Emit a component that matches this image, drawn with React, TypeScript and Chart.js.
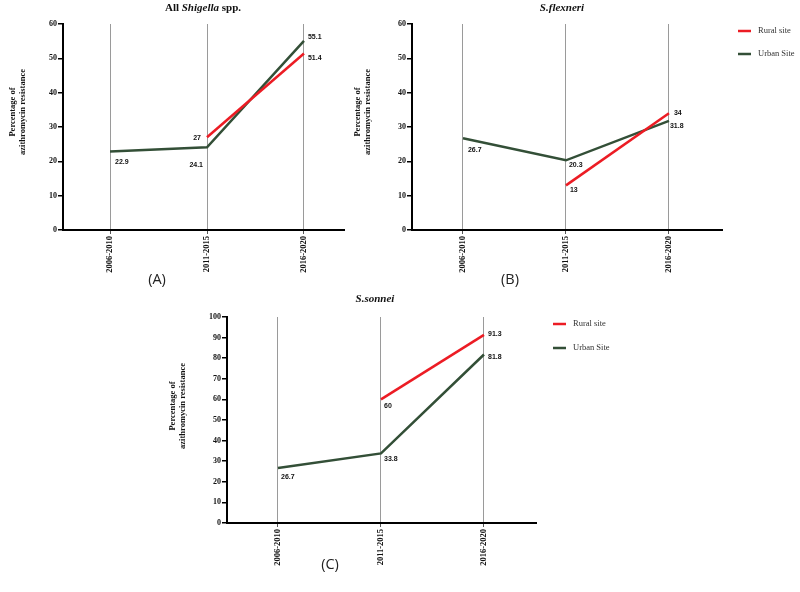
import React, { useEffect, useRef } from "react";
import { Chart, registerables } from "chart.js";
Chart.register(...registerables);

// ---------- data ----------
const categories = ["2006-2010", "2011-2015", "2016-2020"];
const seriesNames = ["Rural site", "Urban Site"];
const yAxisTitle = ["Percentage of", "azithromycin resistance"];

const ruralAll: (number | null)[] = [null, 27, 51.4];
const urbanAll: (number | null)[] = [22.9, 24.1, 55.1];
const ruralFlexneri: (number | null)[] = [null, 13, 34];
const urbanFlexneri: (number | null)[] = [26.7, 20.3, 31.8];
const ruralSonnei: (number | null)[] = [null, 60, 91.3];
const urbanSonnei: (number | null)[] = [26.7, 33.8, 81.8];

const yMaxAB = 60;
const yMaxC = 100;
const yStep = 10;

// ---------- styles ----------
const RED = "#ec1c24";
const GREEN = "#334f37";
const SERIF = "'Liberation Serif', 'Times New Roman', serif";
const SANS = "'Liberation Sans', Arial, sans-serif";

type Off = [number, number, CanvasTextAlign] | null;

interface PanelCfg {
  left: number;
  top: number;
  width: number;
  height: number;
  yWidth: number;
  xHeight: number;
  padTop: number;
  padRight: number;
  xMin: number;
  xMax: number;
  yMax: number;
  rural: (number | null)[];
  urban: (number | null)[];
  ruralOff: Off[];
  urbanOff: Off[];
  title: { text: string; italic: boolean }[];
  titleX: number;
  titleY: number;
  yTitle: { x: number; y: number };
  legend: { x: number; y: number; dy: number } | null;
  panel: { text: string; x: number; y: number };
}

const panels: PanelCfg[] = [
  {
    left: 0, top: 0, width: 345, height: 292,
    yWidth: 63, xHeight: 62, padTop: 24, padRight: 0,
    xMin: -0.485, xMax: 2.423, yMax: yMaxAB,
    rural: ruralAll, urban: urbanAll,
    ruralOff: [null, [-6, 1, "right"], [4, 5, "left"]],
    urbanOff: [[5, 11, "left"], [-4, 18, "right"], [4, -4, "left"]],
    title: [
      { text: "All ", italic: false },
      { text: "Shigella", italic: true },
      { text: " spp.", italic: false },
    ],
    titleX: 203, titleY: 8,
    yTitle: { x: 13, y: 112 },
    legend: null,
    panel: { text: "(A)", x: 157, y: 280 },
  },
  {
    left: 345, top: 0, width: 455, height: 292,
    yWidth: 67, xHeight: 62, padTop: 24, padRight: 78,
    xMin: -0.495, xMax: 2.515, yMax: yMaxAB,
    rural: ruralFlexneri, urban: urbanFlexneri,
    ruralOff: [null, [4, 5, "left"], [5, 0, "left"]],
    urbanOff: [[5, 12, "left"], [3, 5, "left"], [1, 5, "left"]],
    title: [{ text: "S.flexneri", italic: true }],
    titleX: 217, titleY: 8,
    yTitle: { x: 13, y: 112 },
    legend: { x: 393, y: 31, dy: 23 },
    panel: { text: "(B)", x: 165, y: 280 },
  },
  {
    left: 160, top: 290, width: 500, height: 302,
    yWidth: 67, xHeight: 69, padTop: 27, padRight: 124,
    xMin: -0.495, xMax: 2.505, yMax: yMaxC,
    rural: ruralSonnei, urban: urbanSonnei,
    ruralOff: [null, [3, 7, "left"], [4, -1, "left"]],
    urbanOff: [[3, 9, "left"], [3, 6, "left"], [4, 3, "left"]],
    title: [{ text: "S.sonnei", italic: true }],
    titleX: 215, titleY: 9,
    yTitle: { x: 13, y: 116 },
    legend: { x: 393, y: 34, dy: 24 },
    panel: { text: "(C)", x: 170, y: 275 },
  },
];

function buildChart(canvas: HTMLCanvasElement, cfg: PanelCfg) {
  const toPts = (arr: (number | null)[]) => arr.map((v, i) => ({ x: i, y: v }));

  const overlay = {
    id: "overlay",
    afterDatasetsDraw(chart: any) {
      const ctx = chart.ctx as CanvasRenderingContext2D;
      ctx.save();
      // data labels
      ctx.font = `bold 7px ${SANS}`;
      ctx.fillStyle = "#111";
      ctx.textBaseline = "middle";
      const offs = [cfg.ruralOff, cfg.urbanOff];
      chart.data.datasets.forEach((ds: any, di: number) => {
        const meta = chart.getDatasetMeta(di);
        ds.data.forEach((p: any, i: number) => {
          const o = offs[di][i];
          if (p.y == null || !o) return;
          const el = meta.data[i];
          ctx.textAlign = o[2];
          ctx.fillText(String(p.y), el.x + o[0], el.y + o[1]);
        });
      });
      ctx.restore();
    },
    afterDraw(chart: any) {
      const ctx = chart.ctx as CanvasRenderingContext2D;
      ctx.save();
      // title
      ctx.fillStyle = "#111";
      ctx.textBaseline = "middle";
      ctx.textAlign = "left";
      const fontFor = (it: boolean) => `${it ? "italic " : ""}bold 11px ${SERIF}`;
      let total = 0;
      cfg.title.forEach((t) => {
        ctx.font = fontFor(t.italic);
        total += ctx.measureText(t.text).width;
      });
      let x = cfg.titleX - total / 2;
      cfg.title.forEach((t) => {
        ctx.font = fontFor(t.italic);
        ctx.fillText(t.text, x, cfg.titleY);
        x += ctx.measureText(t.text).width;
      });
      // y axis title (rotated, two lines)
      ctx.save();
      ctx.translate(cfg.yTitle.x, cfg.yTitle.y);
      ctx.rotate(-Math.PI / 2);
      ctx.font = `bold 8.5px ${SERIF}`;
      ctx.textAlign = "center";
      ctx.textBaseline = "middle";
      ctx.fillStyle = "#111";
      yAxisTitle.forEach((line, i) => ctx.fillText(line, 0, i * 10.2));
      ctx.restore();
      // legend
      if (cfg.legend) {
        const lg = cfg.legend;
        chart.data.datasets.forEach((ds: any, i: number) => {
          const y = lg.y + i * lg.dy;
          ctx.strokeStyle = ds.borderColor;
          ctx.lineWidth = 2.5;
          ctx.beginPath();
          ctx.moveTo(lg.x, y);
          ctx.lineTo(lg.x + 13, y);
          ctx.stroke();
          ctx.fillStyle = "#333";
          ctx.font = `8.5px ${SERIF}`;
          ctx.textAlign = "left";
          ctx.textBaseline = "middle";
          ctx.fillText(ds.label, lg.x + 20, y);
        });
      }
      // panel label
      ctx.font = `400 14.5px 'Open Sans', sans-serif`;
      ctx.fillStyle = "#222";
      ctx.textAlign = "center";
      ctx.textBaseline = "middle";
      ctx.fillText(cfg.panel.text, cfg.panel.x, cfg.panel.y);
      ctx.restore();
    },
  };

  const zeroPad = (s: any) => {
    s.paddingTop = 0;
    s.paddingBottom = 0;
    s.paddingLeft = 0;
    s.paddingRight = 0;
  };

  return new Chart(canvas, {
    type: "line",
    data: {
      datasets: [
        {
          label: seriesNames[0],
          data: toPts(cfg.rural),
          borderColor: RED,
          backgroundColor: RED,
          borderWidth: 2.5,
          pointRadius: 0,
          tension: 0,
        },
        {
          label: seriesNames[1],
          data: toPts(cfg.urban),
          borderColor: GREEN,
          backgroundColor: GREEN,
          borderWidth: 2.5,
          pointRadius: 0,
          tension: 0,
        },
      ],
    },
    options: {
      responsive: false,
      animation: false,
      events: [],
      layout: { padding: { top: cfg.padTop, right: cfg.padRight, left: 0, bottom: 0 } },
      plugins: { legend: { display: false }, title: { display: false }, tooltip: { enabled: false } },
      scales: {
        x: {
          type: "linear",
          min: cfg.xMin,
          max: cfg.xMax,
          afterBuildTicks: (s: any) => {
            s.ticks = categories.map((_, i) => ({ value: i }));
          },
          afterFit: (s: any) => {
            s.height = cfg.xHeight;
            zeroPad(s);
          },
          grid: {
            display: true,
            drawOnChartArea: true,
            color: "#9a9a9a",
            lineWidth: 1,
            tickLength: 4,
            tickColor: "#555",
          },
          border: { display: true, color: "#000", width: 2 },
          ticks: {
            autoSkip: false,
            minRotation: 90,
            maxRotation: 90,
            padding: 2,
            color: "#111",
            font: { family: SERIF, size: 8.5, weight: "bold" },
            callback: (v: any) => categories[Math.round(v)] ?? "",
          },
        },
        y: {
          type: "linear",
          min: 0,
          max: cfg.yMax,
          afterFit: (s: any) => {
            s.width = cfg.yWidth;
            zeroPad(s);
          },
          grid: {
            display: true,
            drawOnChartArea: false,
            tickLength: 5,
            tickColor: "#000",
            lineWidth: 1.5,
          },
          border: { display: true, color: "#000", width: 2 },
          ticks: {
            stepSize: yStep,
            padding: 1,
            color: "#111",
            font: { family: SERIF, size: 8, weight: "bold" },
          },
          title: { display: false },
        },
      },
    },
    plugins: [overlay],
  } as any);
}

function Panel({ cfg }: { cfg: PanelCfg }) {
  const ref = useRef<HTMLCanvasElement | null>(null);
  useEffect(() => {
    if (!ref.current) return;
    const chart = buildChart(ref.current, cfg);
    return () => chart.destroy();
  }, [cfg]);
  return (
    <canvas
      ref={ref}
      width={cfg.width}
      height={cfg.height}
      style={{
        position: "absolute",
        left: cfg.left,
        top: cfg.top,
        width: cfg.width,
        height: cfg.height,
      }}
    />
  );
}

export default function App() {
  return (
    <div
      style={{
        position: "absolute",
        left: 0,
        top: 0,
        width: 800,
        height: 592,
        background: "#fff",
        overflow: "hidden",
      }}
    >
      {panels.map((p, i) => (
        <Panel key={i} cfg={p} />
      ))}
    </div>
  );
}
